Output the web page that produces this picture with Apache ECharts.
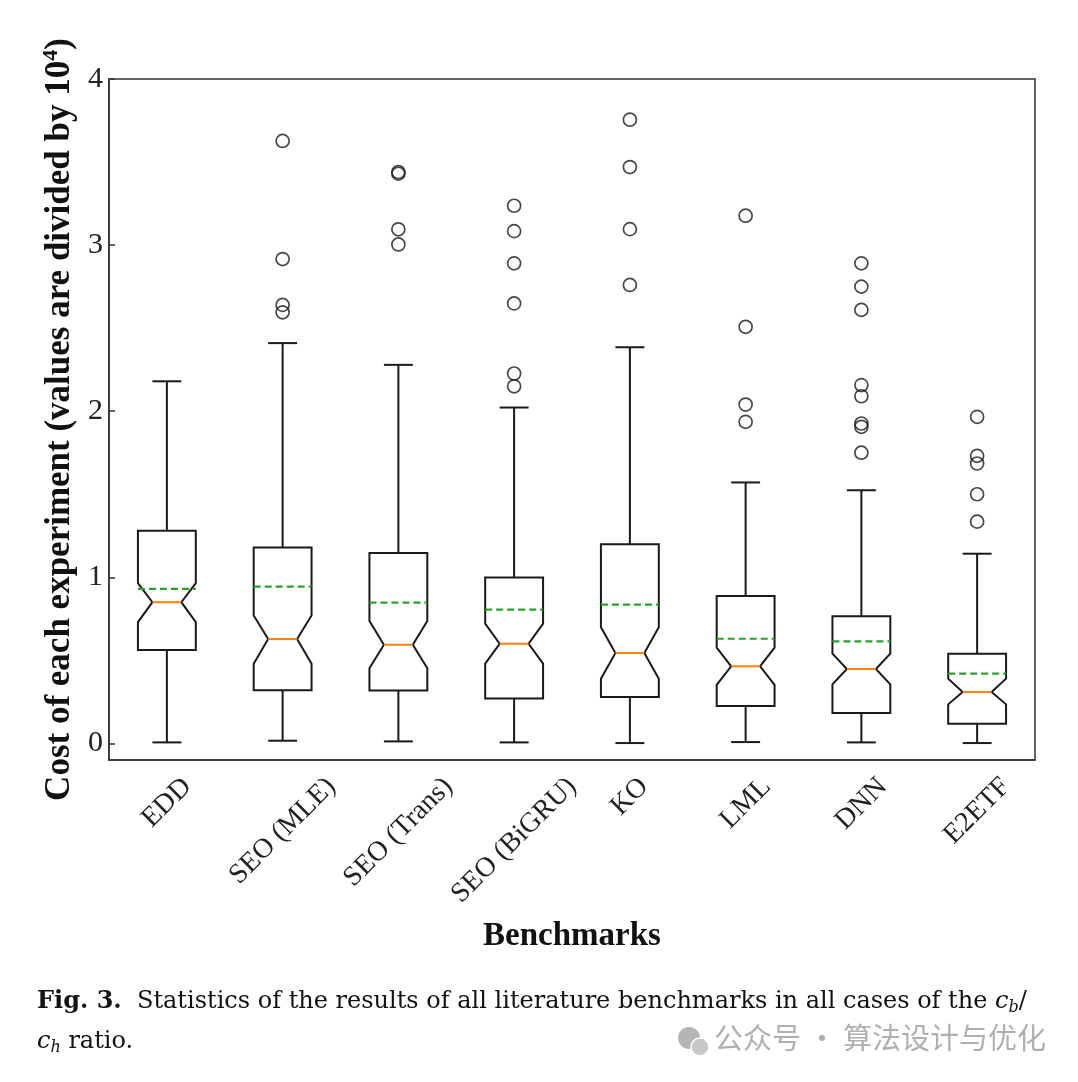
<!DOCTYPE html>
<html>
<head>
<meta charset="utf-8">
<script src="https://cdn.jsdelivr.net/npm/echarts@6/dist/echarts.min.js"></script>
<style>html,body{margin:0;padding:0;background:#fff;}#c{width:1078px;height:1082px;}</style>
</head>
<body>
<div id="c"></div>
<script>
// ---- data (values divided by 10^4) ----
const categories = ['EDD', 'SEO (MLE)', 'SEO (Trans)', 'SEO (BiGRU)', 'KO', 'LML', 'DNN', 'E2ETF'];
const whiskerLow  = [0.006, 0.016, 0.012, 0.006, 0.002, 0.008, 0.006, 0.002];
const q1          = [0.562, 0.320, 0.319, 0.271, 0.279, 0.225, 0.183, 0.118];
const notchLow    = [0.730, 0.480, 0.452, 0.480, 0.389, 0.353, 0.355, 0.235];
const median      = [0.850, 0.628, 0.594, 0.600, 0.544, 0.464, 0.448, 0.309];
const notchHigh   = [0.965, 0.770, 0.737, 0.721, 0.700, 0.576, 0.540, 0.390];
const q3          = [1.280, 1.180, 1.146, 0.998, 1.199, 0.888, 0.765, 0.540];
const whiskerHigh = [2.180, 2.410, 2.279, 2.022, 2.385, 1.571, 1.524, 1.142];
const means       = [0.930, 0.944, 0.847, 0.805, 0.835, 0.630, 0.614, 0.420];
const outliers = [
  [],
  [3.627, 2.916, 2.640, 2.595],
  [3.440, 3.430, 3.095, 3.004],
  [3.237, 3.084, 2.890, 2.649, 2.227, 2.150],
  [3.755, 3.470, 3.096, 2.760],
  [3.177, 2.508, 2.040, 1.936],
  [2.890, 2.750, 2.610, 2.157, 2.090, 1.926, 1.906, 1.750],
  [1.966, 1.731, 1.685, 1.500, 1.335]
];
const yTicks = [0, 1, 2, 3, 4];
const yMin = -0.1, yMax = 4;

// ---- build library data ----
const boxData = categories.map((c, i) => [i, whiskerLow[i], q1[i], notchLow[i], median[i], notchHigh[i], q3[i], whiskerHigh[i], means[i]]);
const outlierData = [];
outliers.forEach((arr, i) => arr.forEach(v => outlierData.push([i, v])));

const SERIF = "'Liberation Serif', 'Times New Roman', serif";
const CAP_SERIF = "'DejaVu Serif', serif";
const LABEL_SIZE = 28;
const labelFont = LABEL_SIZE + 'px ' + SERIF;
const measureCtx = document.createElement('canvas').getContext('2d');
function textWidth(t, font) { measureCtx.font = font; return measureCtx.measureText(t).width; }

const BLACK = '#1a1a1a';

function renderBox(params, api) {
  const i = api.value(0);
  const band = api.size([1, 0])[0];
  const w = band * 0.5, h = w / 2, inset = w * 0.25, cap = w / 4;
  const x = api.coord([i, 0])[0];
  const Y = k => api.coord([i, api.value(k)])[1];
  const yWL = Y(1), yQ1 = Y(2), yNL = Y(3), yMed = Y(4), yNH = Y(5), yQ3 = Y(6), yWH = Y(7), yMean = Y(8);
  const ls = { stroke: BLACK, lineWidth: 2, fill: null };
  return {
    type: 'group',
    children: [
      { type: 'polygon', shape: { points: [
          [x - h, yQ1], [x + h, yQ1], [x + h, yNL], [x + h - inset, yMed], [x + h, yNH], [x + h, yQ3],
          [x - h, yQ3], [x - h, yNH], [x - h + inset, yMed], [x - h, yNL]
        ] }, style: { stroke: BLACK, lineWidth: 2, fill: 'rgba(0,0,0,0)' } },
      { type: 'line', shape: { x1: x, y1: yQ1, x2: x, y2: yWL }, style: ls },
      { type: 'line', shape: { x1: x, y1: yQ3, x2: x, y2: yWH }, style: ls },
      { type: 'line', shape: { x1: x - cap, y1: yWL, x2: x + cap, y2: yWL }, style: ls },
      { type: 'line', shape: { x1: x - cap, y1: yWH, x2: x + cap, y2: yWH }, style: ls },
      { type: 'line', shape: { x1: x - h + inset, y1: yMed, x2: x + h - inset, y2: yMed }, style: { stroke: '#ff7f0e', lineWidth: 2 } },
      { type: 'line', shape: { x1: x - h, y1: yMean, x2: x + h, y2: yMean }, style: { stroke: '#2ca02c', lineWidth: 2.2, lineDash: [7, 4] } }
    ]
  };
}

function renderLabel(params, api) {
  const i = api.value(0);
  const p = api.coord([i, yMin]);
  const txt = categories[i];
  const L = textWidth(txt, labelFont);
  const bh = (L + LABEL_SIZE * 0.85) * Math.SQRT1_2;
  return {
    type: 'text',
    x: p[0],
    y: p[1] + 14 + bh / 2,
    rotation: Math.PI / 4,
    style: { text: txt, font: labelFont, fill: '#222', align: 'center', verticalAlign: 'middle' }
  };
}

const chart = echarts.init(document.getElementById('c'), null, { renderer: 'canvas' });
chart.setOption({
  animation: false,
  backgroundColor: '#ffffff',
  grid: { left: 109, right: 43, top: 79, bottom: 322, show: true, borderColor: '#333', borderWidth: 1.5, backgroundColor: 'transparent' },
  xAxis: {
    type: 'category', data: categories, boundaryGap: true,
    axisLine: { onZero: false, lineStyle: { color: '#333', width: 1.5 } },
    axisTick: { inside: true, alignWithLabel: true, length: 6, lineStyle: { color: '#333', width: 1.5 } },
    axisLabel: { show: false },
    splitLine: { show: false },
    name: 'Benchmarks', nameLocation: 'middle', nameGap: 160,
    nameTextStyle: { fontFamily: SERIF, fontWeight: 'bold', fontSize: 33, color: '#111' }
  },
  yAxis: {
    type: 'value', min: yMin, max: yMax,
    axisLine: { show: true, lineStyle: { color: '#333', width: 1.5 } },
    axisTick: { show: true, inside: true, length: 6, customValues: yTicks, lineStyle: { color: '#333', width: 1.5 } },
    axisLabel: { customValues: yTicks, fontFamily: SERIF, fontSize: 30, color: '#222', margin: 6 },
    splitLine: { show: false },
    name: 'Cost of each experiment (values are divided by 10{sup|4})',
    nameLocation: 'middle', nameGap: 30, nameRotate: 90,
    nameTextStyle: {
      fontFamily: SERIF, fontWeight: 'bold', fontSize: 35, color: '#111',
      rich: { sup: { fontFamily: SERIF, fontSize: 22, color: '#111', verticalAlign: 'top', padding: [0, 0, 16, 0] } }
    }
  },
  title: {
    left: 32, top: 977,
    text: '{b|Fig. 3.}  Statistics of the results of all literature benchmarks in all cases of the {i|c}{sub|b}/\n{i|c}{sub|h} ratio.',
    textStyle: {
      fontFamily: CAP_SERIF, fontSize: 24, fontWeight: 'normal', color: '#111', lineHeight: 40,
      rich: {
        b: { fontFamily: CAP_SERIF, fontSize: 24, fontWeight: 'bold', color: '#111', lineHeight: 40 },
        i: { fontFamily: CAP_SERIF, fontSize: 24, fontStyle: 'italic', color: '#111', lineHeight: 40 },
        sub: { fontFamily: CAP_SERIF, fontSize: 16, fontStyle: 'italic', color: '#111', lineHeight: 40, padding: [12, 0, 0, 0] }
      }
    }
  },
  graphic: [
    { type: 'circle', shape: { cx: 689, cy: 1038, r: 11 }, style: { fill: '#b5b5b5' } },
    { type: 'circle', shape: { cx: 700, cy: 1047, r: 9 }, style: { fill: '#c8c8c8', stroke: '#fff', lineWidth: 1.5 } },
    { type: 'text', left: 714, top: 1023, style: { text: '公众号 · 算法设计与优化', font: "29px 'Noto Sans CJK SC', sans-serif", fill: '#b0b0b0' } }
  ],
  series: [
    { type: 'custom', name: 'box', data: boxData, encode: { x: 0, y: [1, 2, 3, 4, 5, 6, 7, 8] }, renderItem: renderBox, clip: false, z: 3 },
    { type: 'scatter', name: 'outliers', data: outlierData, symbol: 'circle', symbolSize: 13,
      itemStyle: { color: 'rgba(0,0,0,0)', borderColor: BLACK, borderWidth: 1.7 }, z: 4 },
    { type: 'custom', name: 'labels', data: categories.map((c, i) => [i]), encode: { x: 0 }, renderItem: renderLabel, clip: false, silent: true, z: 5 }
  ]
});
</script>
</body>
</html>
